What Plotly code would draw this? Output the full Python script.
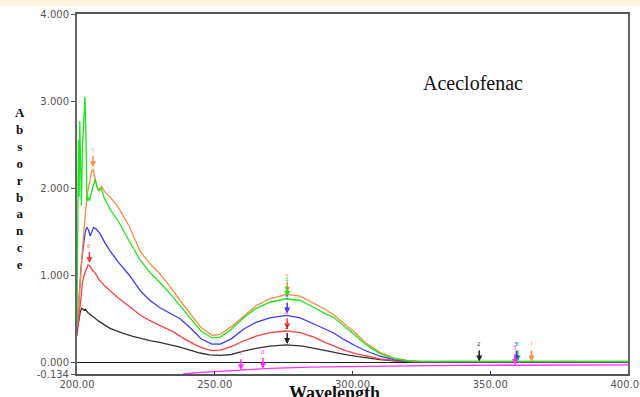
import plotly.graph_objects as go

# ---------------- data ----------------
black_wl = [200, 200.6, 201.2, 201.8, 202.5, 203, 204, 206, 208, 212, 216, 220, 223, 226.5, 230, 233, 237.4, 241, 244.6, 248, 252, 256, 260.4, 265, 270, 276, 282, 288, 293, 298, 302, 306, 310, 315, 320, 325, 330, 400]
black_ab = [0.36, 0.45, 0.58, 0.62, 0.60, 0.61, 0.57, 0.52, 0.47, 0.39, 0.34, 0.30, 0.275, 0.25, 0.23, 0.21, 0.175, 0.14, 0.107, 0.085, 0.08, 0.09, 0.13, 0.16, 0.185, 0.20, 0.185, 0.15, 0.115, 0.085, 0.065, 0.045, 0.032, 0.018, 0.008, 0.004, 0.003, 0.003]

red_wl = [200, 200.5, 201, 201.5, 202, 202.6, 203.2, 204, 204.8, 205.5, 206.5, 208, 210, 212, 215, 219, 223, 227, 231, 235, 239, 243, 246, 249, 252, 256, 260.4, 265, 270, 276, 281, 286, 290, 293, 297, 301, 305, 310, 315, 320, 325, 400]
red_ab = [0.30, 0.45, 0.62, 0.80, 0.92, 1.00, 1.06, 1.12, 1.10, 1.06, 1.03, 0.95, 0.88, 0.82, 0.74, 0.64, 0.54, 0.47, 0.41, 0.35, 0.27, 0.20, 0.16, 0.135, 0.14, 0.18, 0.245, 0.30, 0.34, 0.36, 0.34, 0.29, 0.23, 0.19, 0.14, 0.10, 0.07, 0.04, 0.02, 0.008, 0.004, 0.004]

blue_wl = [200, 200.5, 201, 201.5, 202, 202.5, 203, 203.6, 204.2, 204.8, 205.4, 206, 207, 208.3, 210, 212, 215, 219, 223, 226.5, 230, 234, 237.4, 241, 245, 249, 252, 256, 260.4, 265, 270, 276, 281, 286, 290, 293, 297, 301, 305, 310, 315, 320, 325, 400]
blue_ab = [0.35, 0.60, 0.90, 1.10, 1.25, 1.35, 1.50, 1.55, 1.52, 1.45, 1.50, 1.55, 1.53, 1.48, 1.38, 1.28, 1.15, 1.00, 0.82, 0.71, 0.63, 0.56, 0.50, 0.40, 0.27, 0.21, 0.21, 0.27, 0.38, 0.46, 0.51, 0.54, 0.51, 0.44, 0.38, 0.34, 0.26, 0.19, 0.13, 0.07, 0.03, 0.013, 0.006, 0.006]

green_wl = [200, 200.3, 200.5, 200.8, 201.0, 201.3, 201.6, 202.0, 202.5, 202.9, 203.3, 203.6, 204.0, 204.5, 205.2, 206.0, 206.6, 207.2, 208.0, 208.8, 210, 212, 215, 219, 223, 226.5, 230, 234, 237.4, 241, 245, 249, 252, 256, 260.4, 265, 270, 276, 281, 286, 290, 293, 297, 301, 305, 310, 315, 320, 325, 400]
green_ab = [0.45, 2.20, 2.55, 1.90, 2.77, 2.30, 1.80, 2.50, 2.90, 3.05, 2.50, 1.85, 1.90, 1.85, 1.95, 2.05, 2.10, 2.02, 1.97, 2.00, 1.88, 1.76, 1.62, 1.39, 1.17, 1.03, 0.92, 0.78, 0.65, 0.52, 0.36, 0.28, 0.29, 0.38, 0.51, 0.62, 0.69, 0.73, 0.71, 0.63, 0.56, 0.52, 0.42, 0.31, 0.20, 0.10, 0.042, 0.018, 0.01, 0.01]

orange_wl = [200, 201, 202, 203, 203.8, 204.5, 205.2, 205.8, 206.4, 207, 207.6, 208.3, 209, 210, 212, 215, 219, 223, 226.5, 230, 234, 237.4, 241, 245, 249, 252, 256, 260.4, 265, 270, 276, 281, 286, 290, 293, 297, 301, 305, 310, 315, 320, 325, 400]
orange_ab = [0.40, 0.90, 1.30, 1.70, 1.95, 2.05, 2.18, 2.22, 2.12, 2.05, 1.98, 2.00, 2.02, 1.96, 1.90, 1.78, 1.56, 1.27, 1.13, 1.02, 0.86, 0.71, 0.56, 0.40, 0.31, 0.32, 0.41, 0.53, 0.65, 0.73, 0.78, 0.76, 0.68, 0.61, 0.55, 0.45, 0.34, 0.22, 0.115, 0.05, 0.02, 0.012, 0.01]

magenta_wl = [238.5, 245, 255, 262, 270, 285, 300, 320, 340, 360, 400]
magenta_ab = [-0.134, -0.115, -0.097, -0.085, -0.07, -0.055, -0.045, -0.04, -0.035, -0.033, -0.03]

# peak-pick arrows: wavelength, absorbance, colour, label
pick_wl = [205.8, 276.3, 365.0, 276.3, 360.0, 276.3, 359.5, 204.5, 276.3, 276.3, 346.0, 259.5, 267.5, 359.0]
pick_ab = [2.24, 0.80, 0.01, 0.75, 0.01, 0.56, 0.01, 1.14, 0.38, 0.21, 0.01, -0.09, -0.075, -0.03]
pick_col = ["#ff8a3d", "#ff8a3d", "#ff8a3d", "#1ee61e", "#1ee61e", "#3a3aff", "#3a3aff",
            "#ff3a3a", "#ff3a3a", "#222222", "#222222", "#ff30ff", "#ff30ff", "#ff30ff"]
pick_lab = ["1", "3", "1", "4", "3", "5", "3", "6", "2", "2", "2", "7", "8", "3"]

x_ticks = [200, 250, 300, 350, 400]
x_ticktext = ["200.00", "250.00", "300.00", "350.00", "400.00"]
y_ticks = [-0.134, 0, 1, 2, 3, 4]
y_ticktext = ["-0.134", "0.000", "1.000", "2.000", "3.000", "4.000"]

# ---------------- figure ----------------
fig = go.Figure()
series = [
    (black_wl, black_ab, "#333333"),
    (red_wl, red_ab, "#ff4040"),
    (blue_wl, blue_ab, "#3a3aff"),
    (orange_wl, orange_ab, "#ff8a3d"),
    (green_wl, green_ab, "#1ee61e"),
    (magenta_wl, magenta_ab, "#ff30ff"),
]
for wl, ab, col in series:
    fig.add_trace(go.Scatter(x=wl, y=ab, mode="lines",
                             line=dict(color=col, width=1.3),
                             hoverinfo="skip", showlegend=False))

annotations = []
for wl, ab, col, lab in zip(pick_wl, pick_ab, pick_col, pick_lab):
    annotations.append(dict(x=wl, y=ab, xref="x", yref="y", text=lab,
                            showarrow=True, ax=0, ay=-11, arrowhead=2,
                            arrowsize=0.8, arrowwidth=1.5, arrowcolor=col,
                            font=dict(size=6, color=col), yanchor="bottom"))

serif = "Liberation Serif, Times New Roman, serif"
annotations += [
    dict(x=-0.1034, y=0.514, xref="paper", yref="paper", showarrow=False,
         text="<br>".join("<b>%s</b>" % c for c in "Absorbance"),
         font=dict(family=serif, size=13, color="#111"),
         xanchor="center", yanchor="middle"),
    dict(x=0.468, y=-0.02, xref="paper", yref="paper", showarrow=False,
         text="<b>Wavelength</b>",
         font=dict(family=serif, size=18, color="#111"),
         xanchor="center", yanchor="top"),
    dict(x=0.719, y=0.808, xref="paper", yref="paper", showarrow=False,
         text="Aceclofenac",
         font=dict(family=serif, size=20, color="#111"),
         xanchor="center", yanchor="middle"),
]

fig.update_layout(
    template="none",
    width=640, height=397,
    margin=dict(l=77, r=12, t=14, b=23, pad=0, autoexpand=False),
    paper_bgcolor="white", plot_bgcolor="white",
    annotations=annotations,
    shapes=[dict(type="rect", xref="paper", yref="paper",
                 x0=-0.2, x1=1.1, y0=1 + 8 / 360, y1=1 + 14 / 360,
                 fillcolor="#fcf5df", line=dict(width=0), layer="below")],
    xaxis=dict(range=[200, 400], tickvals=x_ticks, ticktext=x_ticktext,
               showgrid=False, zeroline=False, automargin=False,
               ticklabeloverflow="allow",
               showline=True, linecolor="#555", linewidth=1.5, mirror=True,
               ticks="inside", ticklen=3, tickcolor="#333",
               tickfont=dict(family="DejaVu Sans", size=10, color="#555")),
    yaxis=dict(range=[-0.134, 4.0], tickvals=y_ticks, ticktext=y_ticktext,
               showgrid=False, zeroline=True, zerolinecolor="#222", zerolinewidth=1,
               automargin=False,
               showline=True, linecolor="#666", linewidth=2, mirror=True,
               ticks="outside", ticklen=4, tickcolor="#555",
               tickfont=dict(family="DejaVu Sans", size=10, color="#555")),
)

fig.write_html("out.html",
               config={"displayModeBar": False},
               post_script="document.body.style.margin='0';document.body.style.overflow='hidden';")
